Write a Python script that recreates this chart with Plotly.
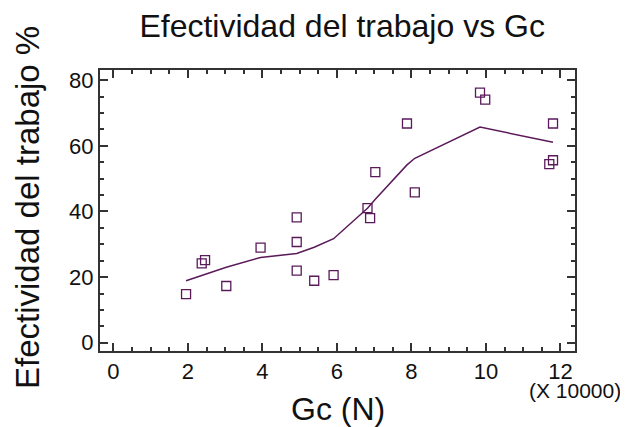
import plotly.graph_objects as go

# Data (Gc in units of 10000 N, effectiveness %)
gc_points = [1.95, 2.37, 2.46, 3.03, 3.95, 4.92, 4.92, 4.92, 5.39, 5.91,
             6.82, 6.89, 7.03, 7.88, 8.09, 9.84, 9.98, 11.80, 11.80, 11.70]
efect_points = [14.8, 24.2, 25.2, 17.3, 29.0, 38.2, 30.7, 22.0, 18.9, 20.6,
                41.0, 38.0, 52.0, 66.8, 45.8, 76.2, 74.1, 66.8, 55.6, 54.4]

gc_fit = [1.95, 3.03, 3.95, 4.92, 5.39, 5.91, 6.82, 7.03, 7.88, 8.09, 9.84, 11.80]
efect_fit = [18.9, 23.0, 26.0, 27.2, 29.1, 31.7, 41.0, 43.7, 54.2, 56.2, 65.7, 61.1]

x_ticks = [0, 2, 4, 6, 8, 10, 12]
y_ticks = [0, 20, 40, 60, 80]

color = "#5a1a5a"
font_family = "Arial, Liberation Sans, sans-serif"
text_color = "#111111"

fig = go.Figure()
fig.add_trace(go.Scatter(x=gc_fit, y=efect_fit, mode="lines",
                         line=dict(color=color, width=1.5), hoverinfo="skip"))
fig.add_trace(go.Scatter(x=gc_points, y=efect_points, mode="markers",
                         marker=dict(symbol="square-open", size=9, color=color,
                                     line=dict(width=1.3, color=color))))

axis_common = dict(showline=True, linecolor="#333333", linewidth=2, mirror="ticks",
                   ticks="inside", ticklen=8, tickwidth=2, tickcolor="#333333",
                   showgrid=False, zeroline=False,
                   tickfont=dict(family=font_family, size=22, color=text_color))

fig.update_xaxes(range=[-0.36, 12.39], tickvals=x_ticks,
                 ticktext=[str(v) for v in x_ticks],
                 minor=dict(ticks="inside", dtick=0.5, tick0=0, ticklen=4,
                            tickwidth=2, tickcolor="#333333"),
                 **axis_common)
fig.update_yaxes(range=[-2.5, 83.1], tickvals=y_ticks,
                 ticktext=[str(v) for v in y_ticks],
                 minor=dict(ticks="inside", dtick=5, tick0=0, ticklen=4,
                            tickwidth=2, tickcolor="#333333"),
                 **axis_common)

# Axis titles and multiplier note
fig.add_annotation(text="Gc (N)", xref="paper", yref="paper", x=0.501, y=-0.206,
                   xanchor="center", yanchor="middle", showarrow=False,
                   font=dict(family=font_family, size=32, color=text_color))
fig.add_annotation(text="Efectividad del trabajo %", xref="paper", yref="paper",
                   x=-0.153, y=0.51, textangle=-90,
                   xanchor="center", yanchor="middle", showarrow=False,
                   font=dict(family=font_family, size=33, color=text_color))
fig.add_annotation(text="(X 10000)", xref="paper", yref="paper", x=0.999, y=-0.142,
                   xanchor="center", yanchor="middle", showarrow=False,
                   font=dict(family=font_family, size=21, color=text_color))

fig.update_layout(
    width=620, height=419,
    margin=dict(l=92, r=53, t=62, b=76),
    paper_bgcolor="white", plot_bgcolor="white",
    showlegend=False,
    title=dict(text="Efectividad del trabajo vs Gc", x=0.539, xanchor="center",
               y=0.957, yanchor="middle",
               font=dict(family=font_family, size=32, color=text_color)),
)

fig.write_html("out.html")
